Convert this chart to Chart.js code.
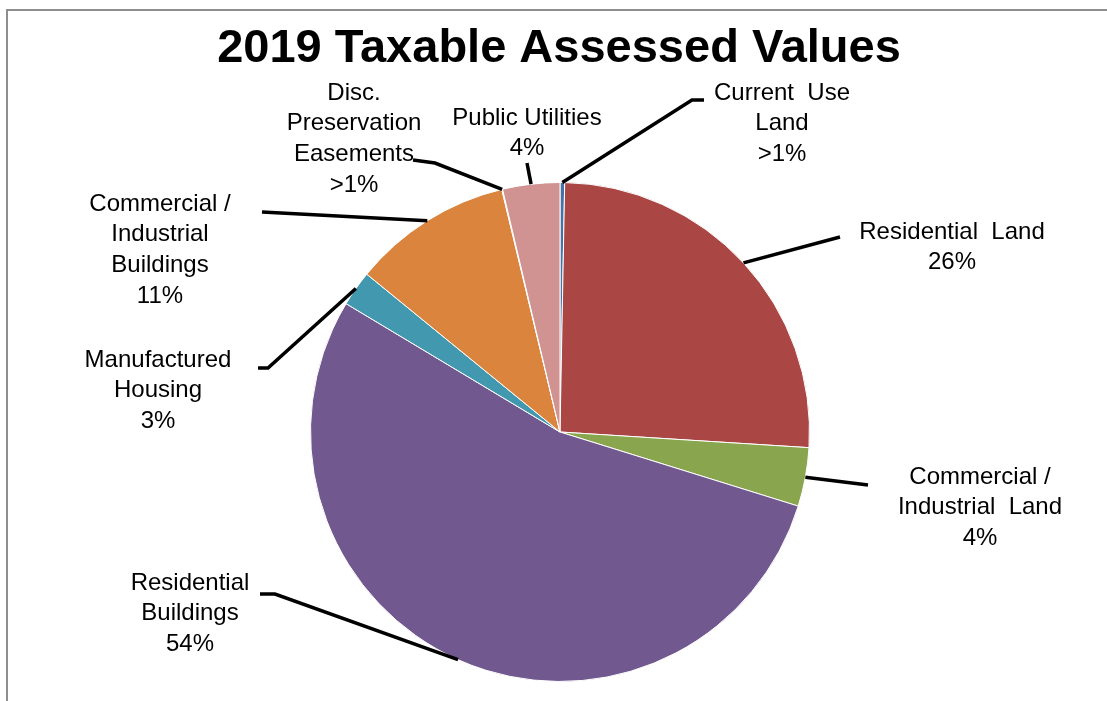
<!DOCTYPE html>
<html>
<head>
<meta charset="utf-8">
<script src="https://cdn.jsdelivr.net/npm/chart.js@4"></script>
<style>
  html, body { margin: 0; padding: 0; background: #fff; }
  #wrap { position: relative; width: 1107px; height: 701px; overflow: hidden; }
  #frame { position: absolute; left: 6px; top: 9px; right: -4px; bottom: -4px;
           border-top: 2px solid #8e8e8e; border-left: 2px solid #8e8e8e; }
  canvas { position: absolute; left: 0; top: 0; }
</style>
</head>
<body>
<div id="wrap">
  <div id="frame"></div>
  <canvas id="taxChart" width="1107" height="701"></canvas>
</div>
<script>
document.addEventListener('DOMContentLoaded', () => {
    // --- Data ---
    const categories = [
        'Current Use Land',
        'Residential Land',
        'Commercial / Industrial Land',
        'Residential Buildings',
        'Manufactured Housing',
        'Commercial / Industrial Buildings',
        'Disc. Preservation Easements',
        'Public Utilities'
    ];
    const shares = [0.3, 25.7, 3.8, 53.8, 2.3, 10.35, 0.05, 3.7];
    const shareLabels = ['>1%', '26%', '4%', '54%', '3%', '11%', '>1%', '4%'];
    const labelLines = [
        ['Current  Use', 'Land'],
        ['Residential  Land'],
        ['Commercial /', 'Industrial  Land'],
        ['Residential', 'Buildings'],
        ['Manufactured', 'Housing'],
        ['Commercial /', 'Industrial', 'Buildings'],
        ['Disc.', 'Preservation', 'Easements'],
        ['Public Utilities']
    ];
    const colors = ['#4572a7', '#aa4644', '#89a54e', '#71588f', '#4198af', '#db843d', '#93a9cf', '#d19392'];

    // --- Label layout (text centre x, first line y, leader path from the pie) ---
    const labelLayout = [
        { x: 782, y: 93,  path: [[692, 100], [704, 100]] },
        { x: 952, y: 232, path: [[840, 237]] },
        { x: 980, y: 477, path: [[868, 485]] },
        { x: 190, y: 583, path: [[275, 594], [260, 594]] },
        { x: 158, y: 360, path: [[268, 368], [258, 368]] },
        { x: 160, y: 204, path: [[262, 212]] },
        { x: 354, y: 93,  path: [[435, 163], [413, 160]] },
        { x: 527, y: 118, path: [[527, 163]] }
    ];

    const labelPlugin = {
        id: 'pieLabels',
        afterDraw(chart) {
            const ctx = chart.ctx;
            const arcs = chart.getDatasetMeta(0).data;
            ctx.save();

            // title
            ctx.fillStyle = '#000';
            ctx.font = 'bold 47px "Liberation Sans", Arial, sans-serif';
            ctx.textAlign = 'center';
            ctx.textBaseline = 'alphabetic';
            ctx.fillText('2019 Taxable Assessed Values', 559, 62);

            // leader lines
            ctx.strokeStyle = '#000';
            ctx.lineWidth = 3.5;
            ctx.lineJoin = 'miter';
            arcs.forEach((arc, i) => {
                const mid = (arc.startAngle + arc.endAngle) / 2;
                const px = arc.x + Math.cos(mid) * arc.outerRadius;
                const py = arc.y + Math.sin(mid) * arc.outerRadius;
                ctx.beginPath();
                ctx.moveTo(px, py);
                labelLayout[i].path.forEach(([x, y]) => ctx.lineTo(x, y));
                ctx.stroke();
            });

            // label text
            ctx.font = '24px "Liberation Sans", Arial, sans-serif';
            ctx.textBaseline = 'middle';
            labelLines.forEach((lines, i) => {
                const lay = labelLayout[i];
                lines.concat([shareLabels[i]]).forEach((t, k) => {
                    ctx.fillText(t, lay.x, lay.y + k * 30.7);
                });
            });
            ctx.restore();
        }
    };

    new Chart(document.getElementById('taxChart').getContext('2d'), {
        type: 'pie',
        data: {
            labels: categories,
            datasets: [{
                data: shares,
                backgroundColor: colors,
                borderColor: '#ffffff',
                borderWidth: 1
            }]
        },
        options: {
            responsive: false,
            animation: false,
            layout: { padding: { left: 310, right: 297, top: 182, bottom: 19 } },
            plugins: {
                legend: { display: false },
                tooltip: { enabled: false },
                title: { display: false }
            }
        },
        plugins: [labelPlugin]
    });
});
</script>
</body>
</html>
